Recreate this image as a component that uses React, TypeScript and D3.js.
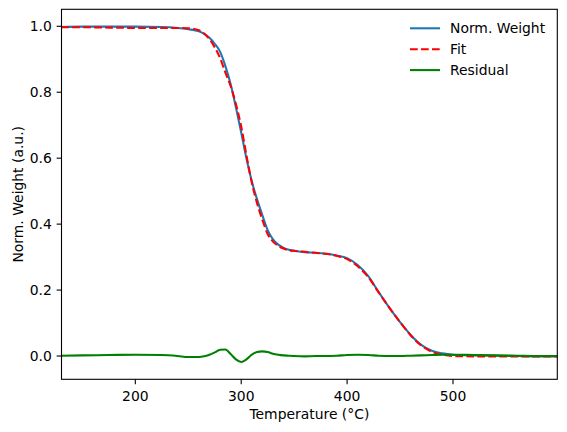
import React from 'react';
import * as d3 from 'd3';

// temperature grid (°C) and the three series
const temps = [
  130, 150, 175, 200, 225, 240, 250, 260, 265, 270, 275, 280, 285, 290, 295, 300,
  305, 310, 315, 320, 325, 330, 335, 340, 345, 350, 360, 370, 380, 390, 400, 410,
  420, 430, 440, 450, 460, 470, 480, 490, 500, 520, 540, 560, 580, 598.5,
];
const normWeight = [
  0.998, 0.999, 0.999, 0.999, 0.998, 0.995, 0.991, 0.985, 0.977, 0.965, 0.947, 0.923, 0.880, 0.825, 0.754, 0.678,
  0.598, 0.530, 0.475, 0.427, 0.382, 0.354, 0.338, 0.328, 0.322, 0.319, 0.315, 0.313, 0.310, 0.305, 0.297, 0.276,
  0.242, 0.193, 0.146, 0.103, 0.064, 0.034, 0.016, 0.008, 0.004, 0.002, 0.001, 0.000, -0.001, -0.001,
];
const fitValues = [
  0.997, 0.997, 0.996, 0.995, 0.995, 0.995, 0.994, 0.988, 0.978, 0.961, 0.936, 0.904, 0.860, 0.819, 0.764, 0.696,
  0.608, 0.526, 0.463, 0.413, 0.370, 0.347, 0.334, 0.326, 0.321, 0.319, 0.316, 0.313, 0.310, 0.304, 0.294, 0.272,
  0.239, 0.192, 0.146, 0.103, 0.063, 0.032, 0.013, 0.004, 0.000, -0.001, -0.001, -0.001, -0.001, -0.001,
];
const residual = [
  0.001, 0.002, 0.003, 0.004, 0.003, 0.000, -0.003, -0.003, -0.001, 0.004, 0.011, 0.019, 0.020, 0.006, -0.010, -0.018,
  -0.010, 0.004, 0.012, 0.014, 0.012, 0.007, 0.004, 0.002, 0.001, 0.000, -0.001, 0.000, 0.000, 0.001, 0.003, 0.004,
  0.003, 0.001, 0.000, 0.000, 0.001, 0.002, 0.003, 0.004, 0.004, 0.003, 0.002, 0.001, 0.000, 0.000,
];
const xTicks = [200, 300, 400, 500];
const yTicks = [0, 0.2, 0.4, 0.6, 0.8, 1.0];

const series = [
  { name: 'Norm. Weight', values: normWeight, color: '#1f77b4', dash: '' },
  { name: 'Fit', values: fitValues, color: '#ff0000', dash: '7.7,3.3' },
  { name: 'Residual', values: residual, color: '#008000', dash: '' },
];

const W = 567;
const H = 432;
const left = 61.5, right = 557.3, top = 9.3, bottom = 379.3;
const font = 'DejaVu Sans, sans-serif';
const fs = 13.9;

export default function App() {
  const x = d3.scaleLinear().domain([130.3, 598.5]).range([left, right]);
  const y = d3.scaleLinear().domain([-0.0706, 1.0515]).range([bottom, top]);

  const line = (vals: number[]) =>
    d3.line<number>()
      .x((_, i) => x(temps[i]))
      .y(d => y(d))
      .curve(d3.curveMonotoneX)(vals) || '';

  return (
    <svg width={W} height={H} style={{ position: 'absolute', left: 0, top: 0, background: '#fff' }}>
      <defs>
        <clipPath id="plot">
          <rect x={left} y={top} width={right - left} height={bottom - top} />
        </clipPath>
      </defs>
      <g clipPath="url(#plot)" fill="none">
        {series.map(s => (
          <path key={s.name} d={line(s.values)} stroke={s.color} strokeWidth={2.08}
            strokeDasharray={s.dash || undefined} strokeLinecap={s.dash ? 'butt' : 'square'} />
        ))}
      </g>
      <rect x={left} y={top} width={right - left} height={bottom - top} fill="none" stroke="#000" strokeWidth={1.1} />
      {xTicks.map(t => (
        <g key={t} transform={`translate(${x(t)},${bottom})`}>
          <line y2={4.86} stroke="#000" strokeWidth={1.1} />
          <text y={21.3} textAnchor="middle" fontFamily={font} fontSize={fs} fill="#000">{t}</text>
        </g>
      ))}
      {yTicks.map(t => (
        <g key={t} transform={`translate(${left},${y(t)})`}>
          <line x2={-4.86} stroke="#000" strokeWidth={1.1} />
          <text x={-9.7} dy="0.36em" textAnchor="end" fontFamily={font} fontSize={fs} fill="#000">{t.toFixed(1)}</text>
        </g>
      ))}
      <text x={(left + right) / 2} y={419.3} textAnchor="middle" fontFamily={font} fontSize={fs} fill="#000">
        Temperature (°C)
      </text>
      <text transform={`translate(22.5,${(top + bottom) / 2}) rotate(-90)`} textAnchor="middle"
        fontFamily={font} fontSize={fs} fill="#000">
        Norm. Weight (a.u.)
      </text>
      {series.map((s, i) => (
        <g key={s.name} transform={`translate(410,${28.3 + i * 20.9})`}>
          <line x1={0} x2={30} stroke={s.color} strokeWidth={2.08} strokeDasharray={s.dash || undefined} />
          <text x={40} dy="0.36em" fontFamily={font} fontSize={fs} fill="#000">{s.name}</text>
        </g>
      ))}
    </svg>
  );
}
